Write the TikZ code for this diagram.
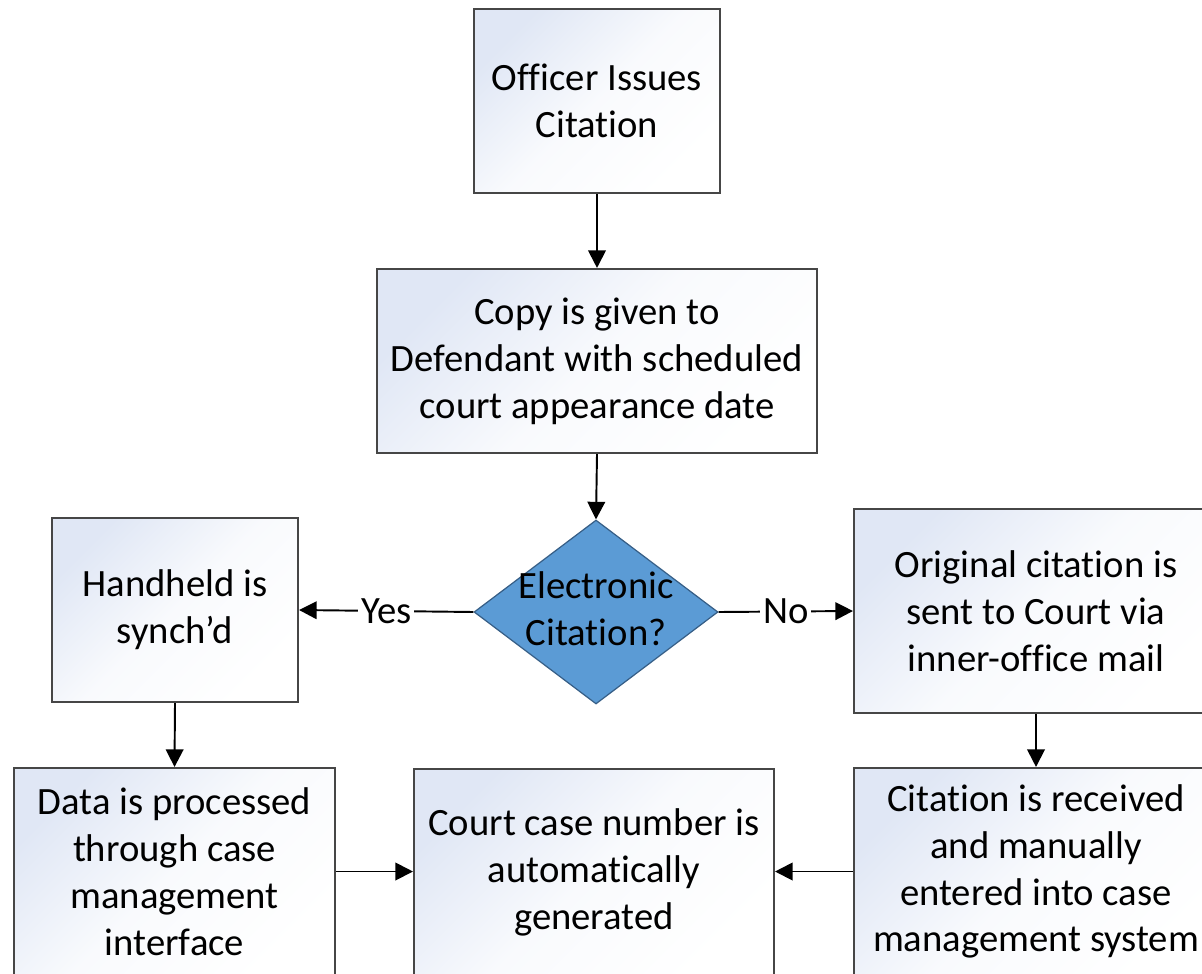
\documentclass[tikz,border=0pt]{standalone}
\usepackage{fontspec}
\setmainfont{Carlito}[Ligatures={NoCommon}]
\usetikzlibrary{shapes.geometric,arrows.meta}
\definecolor{boxblue}{RGB}{224,231,245}
\definecolor{boxline}{RGB}{70,70,70}
\definecolor{decfill}{RGB}{91,155,213}
\definecolor{decline}{RGB}{55,95,135}
\begin{document}
\begin{tikzpicture}[x=0.02cm,y=-0.02cm,
  procbox/.style={draw=boxline, line width=1.2pt, top color=boxblue, bottom color=white,
    middle color=boxblue!20!white, shading angle=45, inner sep=0pt, align=center,
    font=\fontsize{22}{26.7}\selectfont},
  decbox/.style={diamond, draw=decline, line width=0.7pt, fill=decfill, inner sep=0pt},
  dectxt/.style={align=center, inner sep=0pt, font=\fontsize{22}{26.7}\selectfont},
  conn/.style={-{Triangle[length=10pt,width=10pt]}, line width=1.1pt, draw=black},
  lbl/.style={fill=white, inner sep=1.5pt, font=\fontsize{22}{26.7}\selectfont}
]
\useasboundingbox (0,0) rectangle (1202,973);
\clip (0,0) rectangle (1202,973);

\node[procbox, minimum width=4.92cm, minimum height=3.68cm] (b1) at (597,101) {Officer Issues\\Citation};
\node[procbox, minimum width=8.8cm, minimum height=3.68cm] (b2) at (597,361) {Copy is given to\\Defendant with scheduled\\court appearance date};
\node[decbox, minimum width=4.88cm, minimum height=3.68cm] (dec) at (596,612) {};
\node[dectxt] (dect) at (596,609) {Electronic\\Citation?};
\node[procbox, minimum width=4.92cm, minimum height=3.68cm] (hh) at (175,610) {Handheld is\\synch’d};
\node[procbox, minimum width=7.28cm, minimum height=4.08cm] (orig) at (1036,611) {Original citation is\\sent to Court via\\inner-office mail};
\node[procbox, minimum width=6.42cm, minimum height=4.14cm] (data) at (174.5,871.5) {Data is processed\\through case\\management\\interface};
\node[procbox, minimum width=7.2cm, minimum height=4.12cm] (court) at (594,872) {Court case number is\\automatically\\generated};
\node[procbox, minimum width=7.28cm, minimum height=4.14cm] (recv) at (1036,871.5) {Citation is received\\and manually\\entered into case\\management system};

\draw[conn] (b1.south) -- (b2.north);
\draw[conn] (b2.south) -- (dec.north);
\draw[conn] (dec.west) -- node[lbl] (yes) {Yes} (hh.east);
\draw[conn] (dec.east) -- node[lbl] (no) {No} (orig.west);
\draw[conn] (hh.south) -- (data.north);
\draw[conn] (orig.south) -- (recv.north);
\draw[conn] (data.east) -- (data.east -| court.west);
\draw[conn] (recv.west) -- (recv.west -| court.east);
\end{tikzpicture}
\end{document}
